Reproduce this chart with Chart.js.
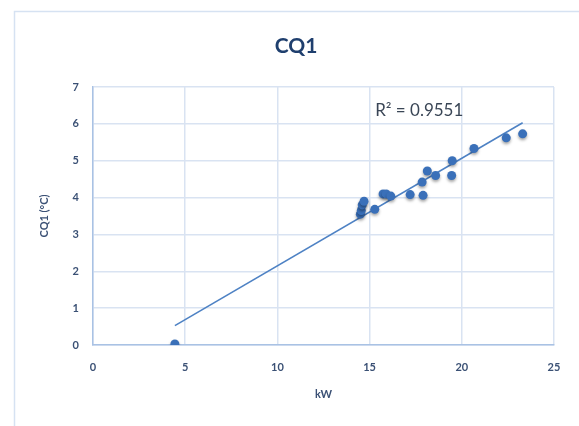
<!DOCTYPE html>
<html>
<head>
<meta charset="utf-8">
<script src="https://cdn.jsdelivr.net/npm/chart.js@4.4.1/dist/chart.umd.min.js"></script>
<style>
  html, body { margin: 0; padding: 0; background: #fff; }
  #wrap { width: 579px; height: 426px; position: relative; }
</style>
</head>
<body>
<div id="wrap"><canvas id="chart"></canvas></div>
<script>
// values
const kw = [4.44, 14.5, 14.55, 14.6, 14.7, 15.28, 15.73, 15.9, 16.15, 17.2, 17.85, 17.9, 18.13, 18.58, 19.45, 19.48, 20.66, 22.41, 23.3];
const cq1 = [0.03, 3.55, 3.65, 3.8, 3.9, 3.68, 4.1, 4.1, 4.04, 4.08, 4.42, 4.06, 4.72, 4.6, 4.6, 5.0, 5.33, 5.62, 5.73];
const xTicks = [0, 5, 10, 15, 20, 25];
const yTicks = [0, 1, 2, 3, 4, 5, 6, 7];
const r2Label = 'R² = 0.9551';

const points = kw.map((x, i) => ({ x, y: cq1[i] }));

// least squares trendline over the data range
function fitLine(xs, ys) {
  const n = xs.length;
  const mx = xs.reduce((a, b) => a + b, 0) / n;
  const my = ys.reduce((a, b) => a + b, 0) / n;
  let sxy = 0, sxx = 0;
  xs.forEach((x, i) => { sxy += (x - mx) * (ys[i] - my); sxx += (x - mx) ** 2; });
  const b = sxy / sxx;
  return { a: my - b * mx, b };
}
const fit = fitLine(kw, cq1);
const xMin = Math.min(...kw), xMax = Math.max(...kw);
const trend = [{ x: xMin, y: fit.a + fit.b * xMin }, { x: xMax, y: fit.a + fit.b * xMax }];

const tickColor = '#3b5175';
const gridColor = '#d9e3f2';
const axisColor = '#a9c2e4';
const font = 'Lato, "Open Sans", sans-serif';

const decor = {
  id: 'decor',
  beforeDraw(chart) {
    const { ctx } = chart;
    ctx.save();
    ctx.fillStyle = '#fff';
    ctx.fillRect(0, 0, chart.width, chart.height);
    ctx.strokeStyle = '#d6e2f2';
    ctx.lineWidth = 1.5;
    ctx.strokeRect(14.5, 11.5, chart.width + 10, chart.height + 10);
    ctx.restore();
  },
  afterDraw(chart) {
    const { ctx, scales } = chart;
    ctx.save();
    ctx.fillStyle = '#1f3f6e';
    ctx.font = 'bold 21px ' + font;
    ctx.textAlign = 'center';
    ctx.textBaseline = 'middle';
    ctx.fillText('CQ1', 296, 46);
    ctx.fillStyle = '#3a4656';
    ctx.font = '17px ' + font;
    ctx.textAlign = 'left';
    ctx.fillText(r2Label, scales.x.getPixelForValue(15.3), scales.y.getPixelForValue(6.37));
    ctx.restore();
  },
  beforeDatasetDraw(chart, args) {
    if (args.index !== 0) return;
    const { ctx } = chart;
    ctx.save();
    ctx.shadowColor = 'rgba(0,0,0,0.35)';
    ctx.shadowBlur = 3;
    ctx.shadowOffsetY = 2;
  },
  afterDatasetDraw(chart, args) {
    if (args.index !== 0) return;
    chart.ctx.restore();
  }
};

new Chart(document.getElementById('chart'), {
  type: 'scatter',
  data: {
    datasets: [
      {
        data: points,
        backgroundColor: '#3a70b9',
        borderColor: '#3a70b9',
        pointRadius: 4.5,
        borderWidth: 0
      },
      {
        type: 'line',
        data: trend,
        borderColor: '#4e82c4',
        borderWidth: 1.6,
        pointRadius: 0,
        fill: false
      }
    ]
  },
  options: {
    responsive: true,
    maintainAspectRatio: false,
    animation: false,
    layout: { padding: { left: 36, right: 25, top: 87, bottom: 25 } },
    plugins: { legend: { display: false }, tooltip: { enabled: false } },
    scales: {
      x: {
        type: 'linear',
        min: 0, max: 25,
        afterBuildTicks: s => { s.ticks = xTicks.map(v => ({ value: v })); },
        afterFit: s => { s.height = 56; },
        grid: { color: gridColor, lineWidth: 1.5, drawTicks: false },
        border: { color: axisColor, width: 1.5 },
        ticks: { color: tickColor, padding: 16, font: { family: font, size: 11, weight: 'bold' } },
        title: { display: true, text: 'kW', color: tickColor, padding: { top: 0, bottom: 0 }, font: { family: font, size: 11, weight: 'bold' } }
      },
      y: {
        min: 0, max: 7,
        afterBuildTicks: s => { s.ticks = yTicks.map(v => ({ value: v })); },
        afterFit: s => { s.width = 57; },
        grid: { color: gridColor, lineWidth: 1.5, drawTicks: false },
        border: { color: axisColor, width: 1.5 },
        ticks: { color: tickColor, padding: 14, font: { family: font, size: 11, weight: 'bold' } },
        title: { display: true, text: 'CQ1 (°C)', color: tickColor, padding: { top: 2, bottom: 0 }, font: { family: font, size: 11, weight: 'bold' } }
      }
    }
  },
  plugins: [decor]
});
</script>
</body>
</html>
